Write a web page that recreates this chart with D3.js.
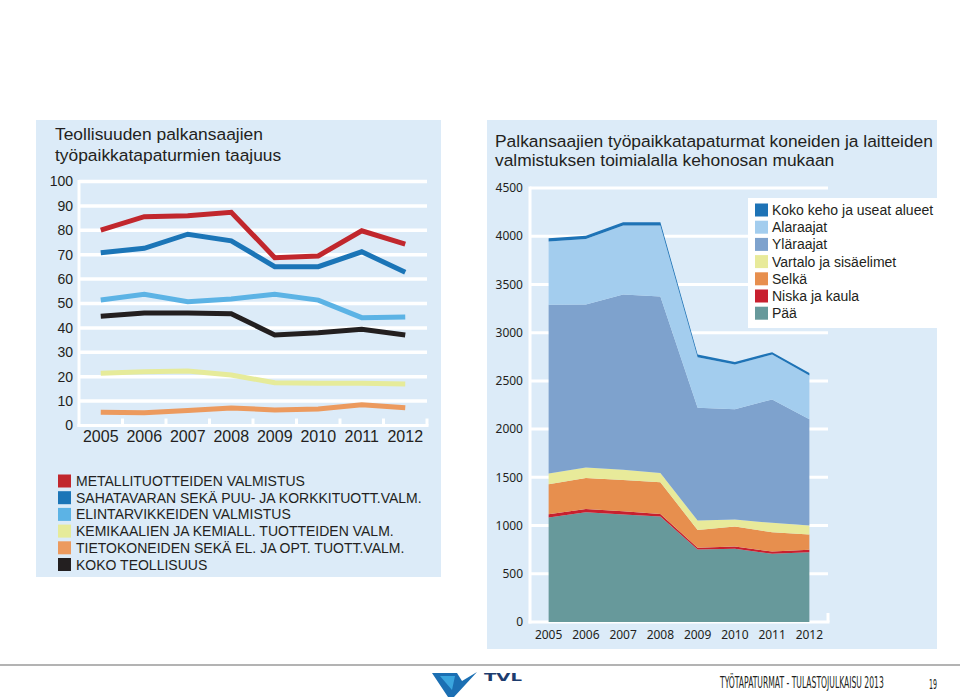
<!DOCTYPE html>
<html>
<head>
<meta charset="utf-8">
<script src="https://cdn.jsdelivr.net/npm/d3@7"></script>
<style>
  body { margin: 0; background: #fff; }
  svg { display: block; }
  text { fill: #231f20; }
</style>
</head>
<body>
<svg id="page" width="960" height="699"></svg>
<script>
// ---- data ----
var years = ["2005", "2006", "2007", "2008", "2009", "2010", "2011", "2012"];

// left chart: frequency of accidents (per million hours)
var lineNames = ["METALLITUOTTEIDEN VALMISTUS", "SAHATAVARAN SEKÄ PUU- JA KORKKITUOTT.VALM.",
  "ELINTARVIKKEIDEN VALMISTUS", "KEMIKAALIEN JA KEMIALL. TUOTTEIDEN VALM.",
  "TIETOKONEIDEN SEKÄ EL. JA OPT. TUOTT.VALM.", "KOKO TEOLLISUUS"];
var lineColors = ["#c1272d", "#1b75b7", "#5cb3e5", "#e6eb9a", "#ec9a5e", "#231f20"];
var metalli  = [80.1, 85.6, 86.0, 87.4, 68.8, 69.5, 79.8, 74.3];
var sahatav  = [70.8, 72.6, 78.4, 75.7, 65.1, 65.1, 71.2, 62.8];
var elintarv = [51.4, 53.8, 50.7, 51.8, 53.8, 51.4, 44.2, 44.5];
var kemikaal = [21.4, 22.0, 22.3, 20.7, 17.5, 17.3, 17.3, 17.0];
var tietokon = [5.4, 5.2, 6.1, 7.2, 6.4, 6.8, 8.5, 7.3];
var kokoTeol = [44.8, 46.1, 46.1, 45.8, 37.1, 38.0, 39.4, 37.1];
var leftTicks = [0, 10, 20, 30, 40, 50, 60, 70, 80, 90, 100];

// right chart: accidents by body part (stacked, bottom first)
var partNames = ["Pää", "Niska ja kaula", "Selkä", "Vartalo ja sisäelimet", "Yläraajat", "Alaraajat", "Koko keho ja useat alueet"];
var partColors = ["#67999b", "#c8202f", "#e78f4e", "#e8ea9a", "#7ea2cd", "#a3cdee", "#1e73b6"];
var paa      = [1083, 1138, 1114, 1093, 752, 759, 707, 724];
var niska    = [35, 34, 34, 28, 17, 24, 24, 24];
var selka    = [311, 321, 324, 327, 186, 207, 200, 159];
var vartalo  = [110, 110, 107, 97, 97, 72, 97, 93];
var ylaraaj  = [1751, 1689, 1816, 1830, 1170, 1143, 1280, 1101];
var alaraaj  = [655, 680, 715, 735, 524, 466, 466, 456];
var kokoKeho = [35, 34, 34, 34, 28, 24, 24, 24];
var rightTicks = [0, 500, 1000, 1500, 2000, 2500, 3000, 3500, 4000, 4500];

var panelBg = "#dcebf8";
var sans = "Liberation Sans, Arial, sans-serif";
var svg = d3.select("#page");

// ---------------- left panel ----------------
svg.append("rect").attr("x", 36).attr("y", 120).attr("width", 405).attr("height", 457).attr("fill", panelBg);

var lt = svg.append("text").attr("font-family", sans).attr("font-size", 17.4);
lt.append("tspan").attr("x", 55).attr("y", 140).text("Teollisuuden palkansaajien");
lt.append("tspan").attr("x", 55).attr("y", 161).text("työpaikkatapaturmien taajuus");

var x1 = d3.scaleBand().domain(years).range([79, 427]);
var y1 = d3.scaleLinear().domain([0, 100]).range([425.5, 181.5]);

var g1 = svg.append("g");
// gridlines
g1.selectAll(".grid").data(leftTicks.slice(1)).enter().append("line")
  .attr("x1", 79).attr("x2", 427)
  .attr("y1", function(d) { return y1(d); }).attr("y2", function(d) { return y1(d); })
  .attr("stroke", "#fff").attr("stroke-width", 3.5);
// axis lines
g1.append("line").attr("x1", 79).attr("x2", 79).attr("y1", y1(100) - 1.5).attr("y2", y1(0) + 1.5)
  .attr("stroke", "#fff").attr("stroke-width", 3);
g1.append("line").attr("x1", 77.5).attr("x2", 428.5).attr("y1", y1(0)).attr("y2", y1(0))
  .attr("stroke", "#fff").attr("stroke-width", 3);
g1.selectAll(".tick").data(years).enter().append("line")
  .attr("x1", function(d) { return x1(d) + x1.bandwidth(); })
  .attr("x2", function(d) { return x1(d) + x1.bandwidth(); })
  .attr("y1", y1(0) - 7).attr("y2", y1(0))
  .attr("stroke", "#fff").attr("stroke-width", 3);
// labels
g1.selectAll(".ylab").data(leftTicks).enter().append("text")
  .attr("x", 73).attr("y", function(d) { return y1(d); }).attr("dy", "0.35em")
  .attr("text-anchor", "end").attr("font-family", sans).attr("font-size", 14)
  .text(function(d) { return d; });
g1.selectAll(".xlab").data(years).enter().append("text")
  .attr("x", function(d) { return x1(d) + x1.bandwidth() / 2; }).attr("y", 442)
  .attr("text-anchor", "middle").attr("font-family", sans).attr("font-size", 16)
  .text(function(d) { return d; });

var lineSeries = [metalli, sahatav, elintarv, kemikaal, tietokon, kokoTeol];
var line1 = d3.line()
  .x(function(d, i) { return x1(years[i]) + x1.bandwidth() / 2; })
  .y(function(d) { return y1(d); });
// draw bottom-most first so the red line stays on top
[3, 4, 2, 5, 1, 0].forEach(function(k) {
  g1.append("path").attr("d", line1(lineSeries[k]))
    .attr("fill", "none").attr("stroke", lineColors[k]).attr("stroke-width", 5);
});

// left legend
var lg = svg.append("g");
lineNames.forEach(function(name, i) {
  var cy = 481 + i * 16.7;
  lg.append("rect").attr("x", 58).attr("y", cy - 6.5).attr("width", 13).attr("height", 13).attr("fill", lineColors[i]);
  lg.append("text").attr("x", 76).attr("y", cy).attr("dy", "0.36em")
    .attr("font-family", sans).attr("font-size", 14).text(name);
});

// ---------------- right panel ----------------
svg.append("rect").attr("x", 487).attr("y", 120).attr("width", 450).attr("height", 529).attr("fill", panelBg);

var rt = svg.append("text").attr("font-family", sans).attr("font-size", 17.4);
rt.append("tspan").attr("x", 495).attr("y", 147).text("Palkansaajien työpaikkatapaturmat koneiden ja laitteiden");
rt.append("tspan").attr("x", 495).attr("y", 166).text("valmistuksen toimialalla kehonosan mukaan");

var x2 = d3.scaleBand().domain(years).range([530, 828]);
var y2 = d3.scaleLinear().domain([0, 4500]).range([622, 188]);

var g2 = svg.append("g");
g2.selectAll(".grid").data(rightTicks.slice(1)).enter().append("line")
  .attr("x1", 530).attr("x2", 828)
  .attr("y1", function(d) { return y2(d); }).attr("y2", function(d) { return y2(d); })
  .attr("stroke", "#fff").attr("stroke-width", 3);
g2.append("line").attr("x1", 530).attr("x2", 530).attr("y1", y2(4500) - 1.5).attr("y2", y2(0) + 1.5)
  .attr("stroke", "#fff").attr("stroke-width", 3);
g2.append("line").attr("x1", 528.5).attr("x2", 829.5).attr("y1", y2(0)).attr("y2", y2(0))
  .attr("stroke", "#fff").attr("stroke-width", 3);
g2.selectAll(".tick").data(years).enter().append("line")
  .attr("x1", function(d) { return x2(d) + x2.bandwidth(); })
  .attr("x2", function(d) { return x2(d) + x2.bandwidth(); })
  .attr("y1", y2(0) - 9).attr("y2", y2(0))
  .attr("stroke", "#fff").attr("stroke-width", 3);
g2.selectAll(".ylab").data(rightTicks).enter().append("text")
  .attr("x", 523).attr("y", function(d) { return y2(d); }).attr("dy", "0.35em")
  .attr("text-anchor", "end").attr("font-family", "Noto Sans, sans-serif").attr("font-size", 12)
  .text(function(d) { return d; });
g2.selectAll(".xlab").data(years).enter().append("text")
  .attr("x", function(d) { return x2(d) + x2.bandwidth() / 2; }).attr("y", 639)
  .attr("text-anchor", "middle").attr("font-family", "Noto Sans, sans-serif").attr("font-size", 12)
  .text(function(d) { return d; });

var partSeries = [paa, niska, selka, vartalo, ylaraaj, alaraaj, kokoKeho];
var table = years.map(function(yr, i) {
  var row = { year: yr };
  partNames.forEach(function(n, k) { row[n] = partSeries[k][i]; });
  return row;
});
var stacked = d3.stack().keys(partNames)(table);
var area2 = d3.area()
  .x(function(d) { return x2(d.data.year) + x2.bandwidth() / 2; })
  .y0(function(d) { return y2(d[0]); })
  .y1(function(d) { return y2(d[1]); });
g2.selectAll(".layer").data(stacked).enter().append("path")
  .attr("d", area2)
  .attr("fill", function(d, i) { return partColors[i]; });

// right legend
var rl = svg.append("g");
rl.append("rect").attr("x", 748).attr("y", 198).attr("width", 189).attr("height", 130).attr("fill", "#fff");
var legendOrder = partNames.slice().reverse();
legendOrder.forEach(function(name, i) {
  var cy = 210 + i * 17.2;
  var k = partNames.indexOf(name);
  rl.append("rect").attr("x", 755).attr("y", cy - 6.5).attr("width", 13).attr("height", 13).attr("fill", partColors[k]);
  rl.append("text").attr("x", 772).attr("y", cy).attr("dy", "0.36em")
    .attr("font-family", sans).attr("font-size", 14).text(name);
});

// ---------------- footer ----------------
svg.append("line").attr("x1", 0).attr("x2", 960).attr("y1", 665).attr("y2", 665)
  .attr("stroke", "#9a9a9a").attr("stroke-width", 1.5);
var logo = svg.append("g");
logo.append("path").attr("d", "M432,673 L457,673 L462,681 L477,672 L454,697 L448,697 Z").attr("fill", "#1b6fb3");
logo.append("path").attr("d", "M440,676 L455,676 L452,690 Z").attr("fill", "#3aa5de");

// squeeze a text horizontally to a given width (condensed look)
function squeeze(sel, x, width) {
  var w = sel.node().getComputedTextLength();
  var s = width / w;
  sel.attr("x", 0).attr("transform", "translate(" + x + ",0) scale(" + s + ",1)");
}
var tvl = logo.append("text").attr("y", 681).attr("font-family", "DejaVu Sans, sans-serif")
  .attr("font-weight", "bold").attr("font-size", 10).style("fill", "#1d3c6e").text("TVL");
squeeze(tvl, 484, 38);
var foot = svg.append("text").attr("y", 688).attr("font-family", "Liberation Sans Narrow, DejaVu Sans Condensed, sans-serif")
  .attr("font-size", 15).text("TYÖTAPATURMAT - TULASTOJULKAISU 2013");
squeeze(foot, 720, 164);
var pg = svg.append("text").attr("y", 689).attr("font-family", "Liberation Sans Narrow, DejaVu Sans Condensed, sans-serif")
  .attr("font-size", 14).text("19");
squeeze(pg, 929, 8);
</script>
</body>
</html>
